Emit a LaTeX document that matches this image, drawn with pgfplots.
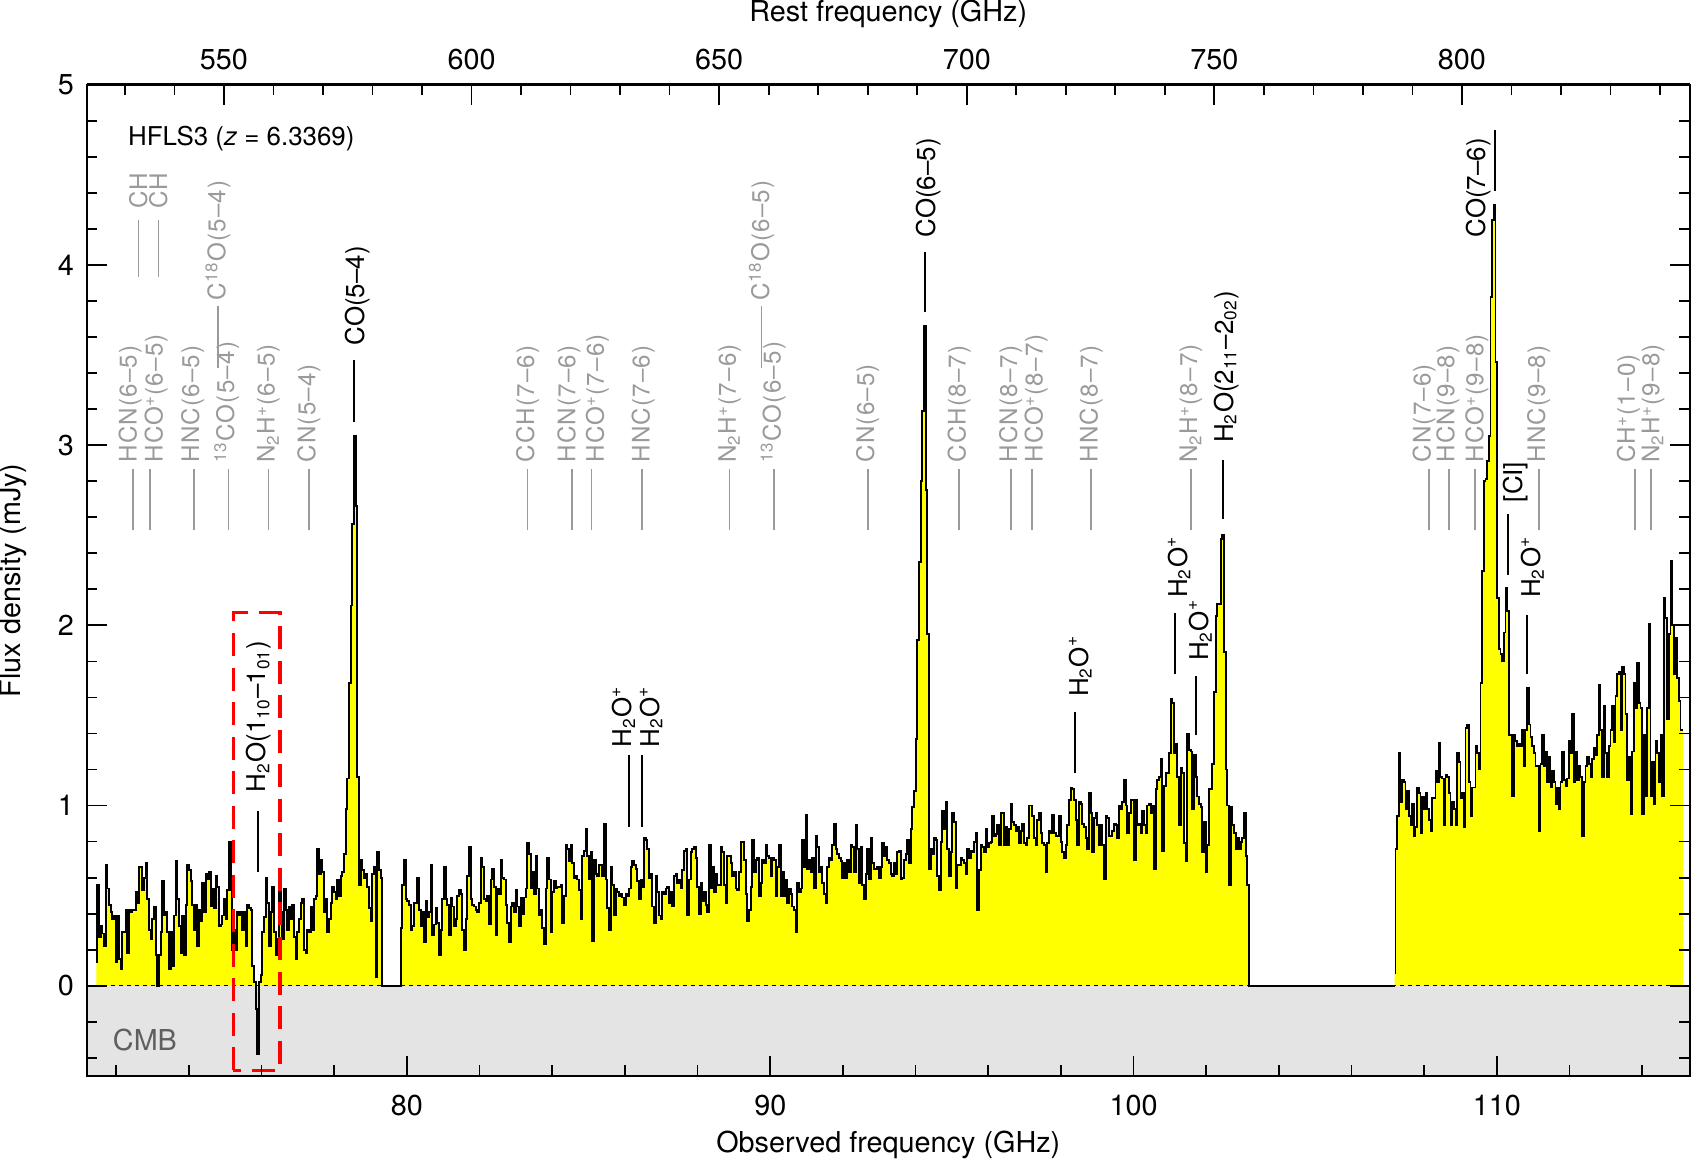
\documentclass[border=0pt]{standalone}
\usepackage{fontspec}
\setmainfont{TeX Gyre Heros}
\usepackage{pgfplots}
\usepackage{pgfplotstable}
\pgfplotsset{compat=1.18}
\definecolor{specyellow}{HTML}{FFFF00}
\definecolor{labgray}{HTML}{9A9A9A}
\definecolor{cmbgray}{HTML}{E4E4E4}
\definecolor{cmbtext}{HTML}{5F5F5F}
\newcommand{\labfont}{\fontsize{9}{10}\selectfont}
\newcommand{\glabfont}{\fontsize{8.4}{10}\selectfont\addfontfeatures{LetterSpace=5}}
\newcommand{\axfont}{\fontsize{10}{12}\selectfont}
\newcommand{\glab}[3]{%
  \draw[labgray, line width=0.6pt] (axis cs:#1,2.53) -- (axis cs:#1,2.87);
  \node[text=labgray, rotate=90, anchor=west, inner sep=0pt, font=\glabfont] at (axis cs:#2,2.90) {#3};}
\newcommand{\gulab}[5]{%
  \draw[labgray, line width=0.6pt] (axis cs:#1,#2) -- (axis cs:#1,#3);
  \node[text=labgray, rotate=90, anchor=west, inner sep=0pt, font=\glabfont] at (axis cs:#1,#4) {#5};}
\newcommand{\blab}[6]{%
  \draw[black, line width=0.6pt] (axis cs:#1,#2) -- (axis cs:#1,#3);
  \node[text=black, rotate=90, anchor=west, inner sep=0pt, font=\labfont] at (axis cs:#4,#5) {#6};}

% main spectrum: 71.455 GHz onwards, channel step 0.045872 GHz (up to 103.19 GHz)
\pgfplotstableread[header=false,row sep=\\]{
0.13\\0.56\\0.27\\0.33\\0.29\\0.22\\0.67\\0.54\\0.45\\0.41\\
0.37\\0.39\\0.13\\0.39\\0.15\\0.09\\0.30\\0.30\\0.42\\0.18\\
0.42\\0.41\\0.42\\0.42\\0.52\\0.46\\0.66\\0.66\\0.53\\0.60\\
0.68\\0.48\\0.31\\0.26\\0.37\\0.44\\0.17\\0.00\\0.17\\0.30\\
0.58\\0.39\\0.41\\0.30\\0.09\\0.30\\0.11\\0.39\\0.69\\0.48\\
0.33\\0.18\\0.39\\0.17\\0.45\\0.67\\0.64\\0.58\\0.45\\0.31\\
0.45\\0.22\\0.42\\0.36\\0.57\\0.41\\0.62\\0.59\\0.63\\0.44\\
0.54\\0.43\\0.61\\0.55\\0.33\\0.34\\0.39\\0.48\\0.37\\0.53\\
0.80\\0.53\\0.20\\0.31\\0.20\\0.41\\0.39\\0.41\\0.31\\0.41\\
0.22\\0.45\\0.43\\0.42\\0.11\\0.02\\-0.13\\-0.38\\0.02\\0.06\\
0.30\\0.38\\0.60\\0.46\\0.22\\0.41\\0.55\\0.30\\0.17\\0.26\\
0.63\\0.41\\0.26\\0.54\\0.42\\0.31\\0.44\\0.37\\0.45\\0.27\\
0.15\\0.30\\0.37\\0.46\\0.48\\0.20\\0.18\\0.31\\0.30\\0.44\\
0.31\\0.48\\0.50\\0.76\\0.62\\0.70\\0.63\\0.41\\0.48\\0.30\\
0.37\\0.46\\0.55\\0.52\\0.48\\0.59\\0.50\\0.61\\0.63\\0.73\\
0.98\\1.15\\1.68\\2.11\\2.56\\3.05\\2.66\\1.16\\0.56\\0.70\\
0.64\\0.60\\0.62\\0.55\\0.43\\0.36\\0.62\\0.66\\0.05\\0.74\\
0.64\\0.60\\0\\0\\0\\0\\0\\0\\0\\0\\0\\0\\0\\
0.32\\0.56\\0.70\\0.48\\0.47\\0.45\\0.31\\0.33\\0.46\\0.46\\
0.60\\0.42\\0.33\\0.41\\0.24\\0.47\\0.38\\0.41\\0.67\\0.28\\
0.34\\0.43\\0.35\\0.17\\0.31\\0.48\\0.66\\0.48\\0.45\\0.28\\
0.49\\0.44\\0.33\\0.37\\0.50\\0.53\\0.51\\0.31\\0.20\\0.37\\
0.61\\0.77\\0.48\\0.45\\0.44\\0.42\\0.41\\0.46\\0.71\\0.66\\
0.48\\0.47\\0.50\\0.34\\0.59\\0.65\\0.55\\0.28\\0.54\\0.51\\
0.70\\0.60\\0.59\\0.45\\0.35\\0.24\\0.44\\0.46\\0.41\\0.53\\
0.44\\0.33\\0.49\\0.40\\0.49\\0.54\\0.79\\0.73\\0.54\\0.63\\
0.51\\0.72\\0.54\\0.39\\0.42\\0.32\\0.23\\0.54\\0.71\\0.59\\
0.30\\0.52\\0.58\\0.54\\0.55\\0.55\\0.56\\0.35\\0.50\\0.78\\
0.76\\0.69\\0.78\\0.68\\0.60\\0.61\\0.59\\0.53\\0.37\\0.72\\
0.75\\0.87\\0.72\\0.59\\0.74\\0.25\\0.70\\0.62\\0.61\\0.67\\
0.67\\0.61\\0.90\\0.59\\0.43\\0.31\\0.66\\0.56\\0.39\\0.54\\
0.52\\0.50\\0.51\\0.49\\0.45\\0.51\\0.50\\0.54\\0.66\\0.69\\
0.67\\0.65\\0.58\\0.48\\0.59\\0.55\\0.82\\0.81\\0.76\\0.60\\
0.62\\0.44\\0.35\\0.61\\0.52\\0.39\\0.37\\0.52\\0.51\\0.54\\
0.55\\0.46\\0.52\\0.44\\0.61\\0.62\\0.57\\0.59\\0.54\\0.64\\
0.75\\0.76\\0.39\\0.59\\0.74\\0.76\\0.77\\0.71\\0.55\\0.40\\
0.57\\0.47\\0.52\\0.45\\0.41\\0.78\\
0.54\\0.66\\0.52\\0.62\\0.56\\0.56\\0.77\\0.74\\0.56\\0.46\\
0.72\\0.72\\0.68\\0.61\\0.63\\0.54\\0.53\\0.63\\0.80\\0.80\\
0.70\\0.51\\0.36\\0.42\\0.55\\0.81\\0.63\\0.70\\0.71\\0.50\\
0.57\\0.70\\0.68\\0.78\\0.72\\0.71\\0.61\\0.71\\0.70\\0.50\\
0.66\\0.78\\0.50\\0.63\\0.50\\0.59\\0.46\\0.54\\0.51\\0.44\\
0.42\\0.30\\0.57\\0.52\\0.54\\0.81\\0.66\\0.95\\0.65\\0.70\\
0.63\\0.71\\0.54\\0.83\\0.77\\0.63\\0.66\\0.57\\0.51\\0.46\\
0.66\\0.71\\0.70\\0.78\\0.90\\0.76\\0.73\\0.71\\0.69\\0.60\\
0.68\\0.60\\0.70\\0.63\\0.78\\0.77\\0.63\\0.89\\0.76\\0.57\\
0.77\\0.56\\0.48\\0.62\\0.76\\0.59\\0.82\\0.68\\0.65\\0.65\\
0.66\\0.60\\0.66\\0.79\\0.72\\0.77\\0.70\\0.68\\0.62\\0.61\\
0.68\\0.62\\0.74\\0.75\\0.59\\0.60\\0.70\\0.73\\0.81\\0.68\\
0.87\\0.99\\1.08\\1.37\\1.92\\2.35\\2.80\\3.19\\3.66\\2.75\\
1.95\\0.65\\0.76\\0.73\\0.82\\0.81\\0.61\\0.53\\0.80\\0.97\\
0.87\\1.02\\0.76\\0.61\\0.74\\0.96\\0.91\\0.54\\0.67\\0.67\\
0.71\\0.70\\0.68\\0.62\\0.76\\0.71\\0.75\\0.74\\0.80\\0.85\\
0.42\\0.64\\0.78\\0.77\\0.74\\0.87\\0.77\\0.79\\0.80\\0.94\\
0.83\\0.84\\0.89\\0.78\\0.96\\0.96\\0.78\\0.88\\0.78\\0.87\\
1.01\\0.91\\0.89\\0.86\\0.88\\0.79\\0.86\\0.90\\0.79\\0.78\\
0.82\\1.00\\
1.00\\0.94\\0.82\\0.78\\0.92\\0.96\\0.85\\0.79\\0.78\\0.63\\
0.79\\0.86\\0.85\\0.95\\0.85\\0.83\\0.83\\0.94\\0.80\\0.74\\
0.71\\0.78\\0.89\\1.03\\1.10\\1.09\\1.03\\0.92\\0.78\\1.02\\
1.01\\0.90\\0.88\\0.82\\0.76\\1.07\\0.96\\0.74\\0.93\\0.96\\
0.89\\0.78\\0.89\\0.78\\0.59\\0.94\\0.93\\0.83\\0.83\\0.86\\
0.90\\0.89\\0.82\\1.00\\0.98\\1.02\\1.14\\1.00\\0.85\\0.96\\
1.03\\1.03\\0.70\\1.03\\0.89\\0.90\\0.85\\0.97\\0.89\\0.85\\
1.00\\1.01\\0.96\\1.00\\0.65\\1.09\\1.14\\1.16\\1.26\\0.75\\
1.11\\1.18\\1.18\\1.29\\1.59\\1.57\\1.29\\1.34\\1.16\\0.89\\
1.21\\1.18\\0.79\\0.69\\1.40\\1.31\\1.30\\0.98\\1.28\\1.16\\
1.05\\1.01\\0.99\\0.74\\0.91\\0.63\\0.78\\1.09\\1.09\\1.23\\
1.63\\2.05\\2.12\\2.12\\2.48\\2.50\\1.85\\1.20\\1.00\\0.56\\
0.99\\0.89\\0.85\\0.76\\0.82\\0.76\\0.80\\0.82\\0.96\\0.72\\
0.56\\0\\
}\segA
% high-frequency part: 107.184 GHz onwards
\pgfplotstableread[header=false,row sep=\\]{
0.07\\0.76\\0.94\\1.29\\1.02\\1.14\\1.13\\0.98\\1.08\\0.94\\
0.89\\1.01\\0.83\\0.88\\1.10\\1.07\\0.85\\1.05\\0.98\\1.07\\
0.98\\0.92\\0.86\\1.04\\1.04\\1.19\\1.13\\1.35\\1.16\\1.15\\
0.89\\1.17\\1.16\\1.07\\0.89\\1.02\\0.98\\0.89\\1.29\\1.24\\
1.04\\1.07\\0.88\\1.43\\1.45\\1.13\\0.94\\1.10\\1.10\\1.33\\
1.29\\1.20\\1.68\\2.30\\2.80\\2.81\\2.91\\3.05\\3.82\\4.25\\
4.33\\3.46\\2.15\\1.87\\1.84\\1.80\\1.96\\2.21\\2.08\\1.39\\
1.39\\1.05\\1.39\\1.36\\1.33\\1.34\\1.33\\1.42\\1.22\\1.42\\
1.65\\1.45\\1.38\\1.33\\1.29\\1.22\\1.22\\0.86\\1.23\\1.39\\
1.22\\1.30\\1.13\\1.27\\1.10\\1.19\\1.13\\1.01\\1.10\\0.98\\
1.13\\1.30\\1.14\\1.11\\1.15\\1.36\\1.29\\1.51\\1.13\\1.30\\
1.14\\1.22\\1.16\\0.83\\1.13\\1.22\\1.27\\1.23\\1.16\\1.26\\
1.32\\1.28\\1.39\\1.67\\1.42\\1.16\\1.55\\1.29\\1.16\\1.33\\
1.42\\1.55\\1.35\\1.61\\1.73\\1.74\\1.42\\1.77\\1.73\\1.51\\
1.14\\1.27\\0.95\\1.30\\1.68\\1.54\\1.79\\1.57\\1.54\\0.95\\
1.39\\1.05\\1.54\\2.01\\1.05\\1.24\\1.01\\1.36\\1.29\\1.13\\
1.39\\1.05\\2.15\\2.04\\1.48\\1.95\\2.36\\2.00\\1.73\\1.93\\
1.71\\1.58\\1.42\\1.42\\
}\segE

\begin{document}
\begin{tikzpicture}
\begin{axis}[
  scale only axis, width=557pt, height=344.4pt,
  xmin=71.187, xmax=115.31, ymin=-0.5, ymax=5,
  axis on top,
  xtick={80,90,100,110}, minor xtick={72,74,...,114},
  ytick={0,1,2,3,4,5}, minor ytick={-0.4,-0.2,...,4.85},
  xtick pos=bottom, ytick pos=both,
  tick align=inside,
  major tick length=7pt, minor tick length=3.7pt,
  tick style={black, line width=0.6pt},
  axis line style={line width=0.8pt},
  /pgf/number format/assume math mode=true,
  ticklabel style={font=\axfont},
  xticklabel style={yshift=-3.3pt},
  yticklabel style={xshift=-0.9pt},
  xlabel={Observed frequency (GHz)},
  ylabel={Flux density (mJy)},
  label style={font=\axfont, inner sep=0pt},
  xlabel style={at={(axis description cs:0.5,-0.0697)}, anchor=center},
  ylabel style={at={(axis description cs:-0.0456,0.5)}, anchor=center},
]
% CMB band
\addplot[draw=none, fill=cmbgray] coordinates {(71.0,-0.5) (116,-0.5) (116,0) (71.0,0)} -- cycle;
% yellow fills
\addplot[const plot mark mid, draw=none, fill=specyellow] table[x expr=\coordindex*0.045872+71.455, y index=0] {\segA} \closedcycle;
\addplot[const plot mark mid, draw=none, fill=specyellow] table[x expr=\coordindex*0.045872+107.184, y index=0] {\segE} \closedcycle;
% zero line
\addplot[black, line width=0.5pt, dash pattern=on 1.4pt off 1.4pt] coordinates {(71.187,0) (115.31,0)};
% spectrum outline
\addplot[const plot mark mid, black, line width=0.65pt] table[x expr=\coordindex*0.045872+71.455, y index=0] {\segA};
\addplot[black, line width=0.65pt] coordinates {(103.193,0) (107.184,0)};
\addplot[const plot mark mid, black, line width=0.65pt] table[x expr=\coordindex*0.045872+107.184, y index=0] {\segE};

% gray line labels (lower row)
\glab{72.47}{72.38}{HCN(6--5)}
\glab{72.93}{73.10}{HCO\textsuperscript{+}(6--5)}
\glab{74.13}{74.10}{HNC(6--5)}
\glab{75.09}{75.04}{\textsuperscript{13}CO(5--4)}
\glab{76.19}{76.19}{N\textsubscript{2}H\textsuperscript{+}(6--5)}
\glab{77.30}{77.30}{CN(5--4)}
\glab{83.32}{83.32}{CCH(7--6)}
\glab{84.55}{84.46}{HCN(7--6)}
\glab{85.08}{85.24}{HCO\textsuperscript{+}(7--6)}
\glab{86.48}{86.50}{HNC(7--6)}
\glab{88.88}{88.88}{N\textsubscript{2}H\textsuperscript{+}(7--6)}
\glab{90.10}{90.08}{\textsuperscript{13}CO(6--5)}
\glab{92.70}{92.68}{CN(6--5)}
\glab{95.20}{95.20}{CCH(8--7)}
\glab{96.62}{96.62}{HCN(8--7)}
\glab{97.20}{97.32}{HCO\textsuperscript{+}(8--7)}
\glab{98.83}{98.83}{HNC(8--7)}
\glab{101.58}{101.58}{N\textsubscript{2}H\textsuperscript{+}(8--7)}
\glab{108.14}{108.00}{CN(7--6)}
\glab{108.68}{108.65}{HCN(9--8)}
\glab{109.40}{109.45}{HCO\textsuperscript{+}(9--8)}
\glab{111.15}{111.15}{HNC(9--8)}
\glab{113.81}{113.62}{CH\textsuperscript{+}(1--0)}
\glab{114.25}{114.30}{N\textsubscript{2}H\textsuperscript{+}(9--8)}
% gray upper row
\gulab{72.61}{3.93}{4.25}{4.31}{CH}
\gulab{73.16}{3.93}{4.25}{4.31}{CH}
\gulab{74.80}{3.43}{3.77}{3.80}{C\textsuperscript{18}O(5--4)}
\gulab{89.76}{3.43}{3.77}{3.80}{C\textsuperscript{18}O(6--5)}

% black labels
\blab{78.55}{3.13}{3.47}{78.65}{3.55}{CO(5--4)}
\blab{94.25}{3.74}{4.07}{94.35}{4.15}{CO(6--5)}
\draw[black, line width=0.6pt] (axis cs:109.94,4.41) -- (axis cs:109.94,4.75);
\node[rotate=90, anchor=south west, inner sep=0pt, font=\labfont] at (axis cs:109.84,4.15) {CO(7--6)};
\blab{102.47}{2.59}{2.92}{102.55}{3.01}{H\textsubscript{2}O(2\textsubscript{11}--2\textsubscript{02})}
\blab{75.91}{0.63}{0.97}{75.93}{1.07}{H\textsubscript{2}O(1\textsubscript{10}--1\textsubscript{01})}
\blab{86.11}{0.88}{1.28}{85.97}{1.32}{H\textsubscript{2}O\textsuperscript{+}}
\blab{86.47}{0.88}{1.28}{86.72}{1.32}{H\textsubscript{2}O\textsuperscript{+}}
\blab{98.38}{1.18}{1.52}{98.53}{1.60}{H\textsubscript{2}O\textsuperscript{+}}
\blab{101.13}{1.73}{2.07}{101.25}{2.15}{H\textsubscript{2}O\textsuperscript{+}}
\blab{101.72}{1.39}{1.72}{101.84}{1.80}{H\textsubscript{2}O\textsuperscript{+}}
\blab{110.31}{2.28}{2.62}{110.50}{2.68}{[CI]}
\blab{110.83}{1.73}{2.06}{110.98}{2.15}{H\textsubscript{2}O\textsuperscript{+}}

% annotations
\node[anchor=west, inner sep=0pt, font=\labfont] at (axis cs:72.31,4.70) {HFLS3 (\textit{z} = 6.3369)};
\node[text=cmbtext, inner sep=0pt, font=\axfont] at (axis cs:72.79,-0.30) {CMB};
\draw[red, line width=1.2pt, dash pattern=on 8pt off 4pt] (axis cs:75.22,-0.47) rectangle (axis cs:76.51,2.07);
\end{axis}
\begin{axis}[
  scale only axis, width=557pt, height=344.4pt,
  xmin=522.29, xmax=846.02, ymin=-0.5, ymax=5,
  axis x line*=top, axis y line=none,
  xtick={550,600,650,700,750,800}, minor xtick={530,540,...,840},
  tick align=inside,
  major tick length=7pt, minor tick length=3.7pt,
  tick style={black, line width=0.6pt},
  axis line style={line width=0.8pt},
  /pgf/number format/assume math mode=true,
  ticklabel style={font=\axfont},
  xticklabel style={yshift=1.7pt},
  xlabel={Rest frequency (GHz)},
  label style={font=\axfont, inner sep=0pt},
  xlabel style={at={(axis description cs:0.5,1.0714)}, anchor=center},
]
\end{axis}
\end{tikzpicture}
\end{document}
